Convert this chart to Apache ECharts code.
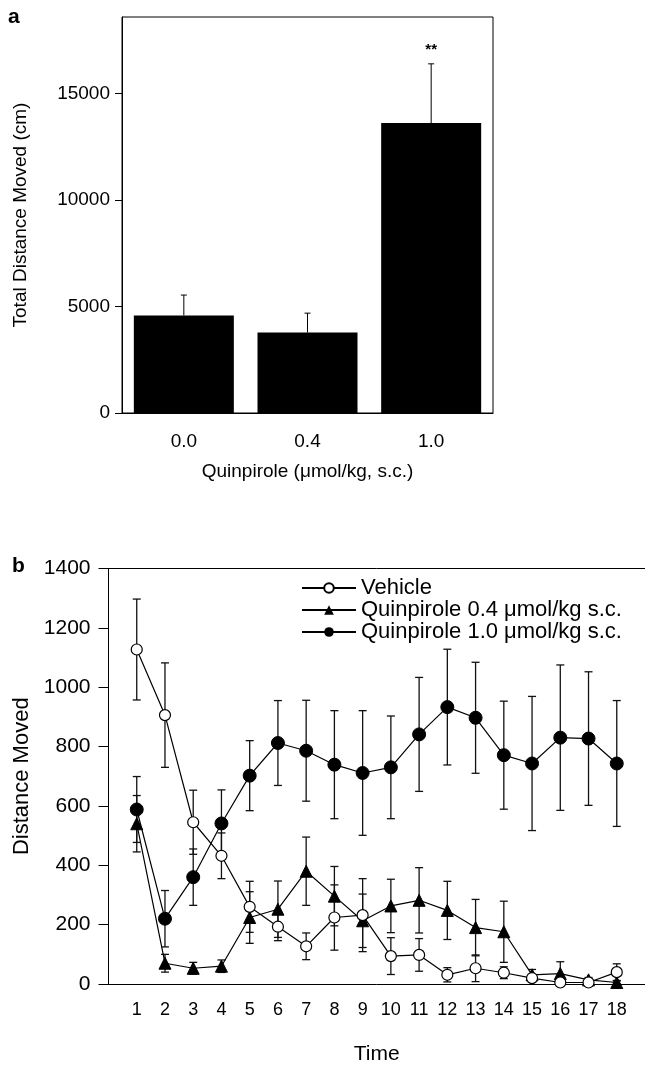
<!DOCTYPE html>
<html lang="en">
<head>
<meta charset="UTF-8">
<style>
  html, body { height: 100%; margin: 0; background: #fff; }
</style>
</head>
<body>
<div id="chart" style="width:645px;height:1066px;"></div>
<script src="https://cdn.jsdelivr.net/npm/echarts@6/dist/echarts.min.js"></script>
<script>
// panel a: total distance by dose
var doseLabels = ['0.0', '0.4', '1.0'];
var totalMeans = [4580, 3780, 13620];
var totalErr = [960, 910, 2780];
var sigMarks = ['', '', '**'];
var aTicks = [0, 5000, 10000, 15000];

// panel b: distance per time bin
var timeLabels = [1, 2, 3, 4, 5, 6, 7, 8, 9, 10, 11, 12, 13, 14, 15, 16, 17, 18];
var vehicle = [1127, 906, 545, 432, 260, 193, 127, 224, 232, 94, 98, 31, 53, 38, 20, 5, 5, 40];
var vehicleErr = [170, 176, 108, 77, 86, 47, 45, 110, 123, 62, 55, 24, 45, 20, 10, 5, 5, 28];
var q04 = [540, 70, 53, 60, 224, 252, 380, 296, 213, 263, 282, 248, 190, 176, 31, 35, 14, 5];
var q04Err = [95, 30, 20, 21, 87, 95, 115, 100, 90, 90, 110, 98, 95, 103, 18, 40, 8, 5];
var q10 = [588, 220, 360, 541, 702, 812, 786, 739, 711, 730, 841, 933, 897, 771, 743, 830, 827, 743];
var q10Err = [111, 95, 95, 113, 118, 143, 170, 182, 210, 173, 192, 195, 187, 182, 226, 245, 225, 212];

var FONT = '"Liberation Sans", Arial, sans-serif';

function pairs(xs, ys) {
    return xs.map(function (x, i) { return [x, ys[i]]; });
}
function errRows(xs, ys, es) {
    return xs.map(function (x, i) { return [x, ys[i], es[i]]; });
}
function plain(v) { return String(v); }

// two-sided error bars for panel b
function errBoth(params, api) {
    var x = api.value(0), m = api.value(1), e = api.value(2);
    var top = api.coord([x, m + e]);
    var bot = api.coord([x, Math.max(m - e, 0)]);
    var w = 4;
    var st = { stroke: '#111', lineWidth: 1.3 };
    return {
        type: 'group',
        children: [
            { type: 'line', shape: { x1: top[0], y1: top[1], x2: bot[0], y2: bot[1] }, style: st },
            { type: 'line', shape: { x1: top[0] - w, y1: top[1], x2: top[0] + w, y2: top[1] }, style: st },
            { type: 'line', shape: { x1: bot[0] - w, y1: bot[1], x2: bot[0] + w, y2: bot[1] }, style: st }
        ]
    };
}

var myChart = echarts.init(document.getElementById('chart'));
myChart.setOption({
    animation: false,
    textStyle: { fontFamily: FONT, color: '#000' },
    graphic: [
        { type: 'text', left: 8, top: 7, style: { text: 'a', font: 'bold 21px ' + FONT, fill: '#000' } },
        { type: 'text', left: 12, top: 556, style: { text: 'b', font: 'bold 21px ' + FONT, fill: '#000' } }
    ],
    legend: {
        orient: 'vertical',
        left: 301,
        top: 577,
        padding: 0,
        itemWidth: 54,
        itemHeight: 12,
        itemGap: 0,
        textStyle: { fontSize: 22, color: '#000', fontFamily: FONT },
        data: ['Vehicle', 'Quinpirole 0.4 μmol/kg s.c.', 'Quinpirole 1.0 μmol/kg s.c.']
    },
    grid: [
        { left: 122, top: 17, width: 371, height: 396, show: true, borderColor: '#000', borderWidth: 1 },
        { left: 108.5, top: 568.5, right: 0, height: 420.2 }
    ],
    xAxis: [
        {
            gridIndex: 0, type: 'category', data: doseLabels,
            axisLine: { lineStyle: { color: '#000', width: 1 } },
            axisTick: { show: false },
            axisLabel: { fontSize: 19, color: '#000', margin: 19 },
            name: 'Quinpirole (μmol/kg, s.c.)', nameLocation: 'middle', nameGap: 49,
            nameTextStyle: { fontSize: 19, color: '#000' }
        },
        {
            gridIndex: 1, type: 'value', min: 0, max: 19, interval: 1,
            axisLine: { lineStyle: { color: '#000', width: 1 } },
            axisTick: { show: false },
            splitLine: { show: false },
            axisLabel: { fontSize: 18, color: '#000', margin: 17, customValues: timeLabels },
            name: 'Time', nameLocation: 'middle', nameGap: 60,
            nameTextStyle: { fontSize: 21, color: '#000' }
        },
        {
            gridIndex: 1, type: 'value', min: 0, max: 19, position: 'top',
            axisLine: { lineStyle: { color: '#000', width: 1 } },
            axisTick: { show: false }, axisLabel: { show: false }, splitLine: { show: false }
        }
    ],
    yAxis: [
        {
            gridIndex: 0, type: 'value', min: 0, max: 18600,
            axisLine: { show: true, lineStyle: { color: '#000', width: 1 } },
            axisTick: { show: true, length: 7, customValues: aTicks, lineStyle: { color: '#000' } },
            axisLabel: { fontSize: 19, color: '#000', margin: 12, customValues: aTicks, formatter: plain },
            splitLine: { show: false },
            name: 'Total Distance Moved (cm)', nameLocation: 'middle', nameGap: 92,
            nameTextStyle: { fontSize: 19, color: '#000' }
        },
        {
            gridIndex: 1, type: 'value', min: 0, max: 1400, interval: 200,
            axisLine: { show: true, lineStyle: { color: '#000', width: 1 } },
            axisTick: { show: true, length: 10, lineStyle: { color: '#000' } },
            axisLabel: { fontSize: 21, color: '#000', margin: 18, formatter: plain },
            splitLine: { show: false },
            name: 'Distance Moved', nameLocation: 'middle', nameGap: 71,
            nameTextStyle: { fontSize: 22, color: '#000' }
        }
    ],
    series: [
        {
            type: 'bar', xAxisIndex: 0, yAxisIndex: 0,
            data: totalMeans, barWidth: 100,
            itemStyle: { color: '#000' }
        },
        {
            type: 'custom', xAxisIndex: 0, yAxisIndex: 0, z: 3,
            data: totalMeans.map(function (m, i) { return [i, m, totalErr[i]]; }),
            renderItem: function (params, api) {
                var x = api.value(0), m = api.value(1), e = api.value(2);
                var p0 = api.coord([x, m]);
                var p1 = api.coord([x, m + e]);
                var st = { stroke: '#000', lineWidth: 1 };
                var kids = [
                    { type: 'line', shape: { x1: p0[0], y1: p0[1], x2: p1[0], y2: p1[1] }, style: st },
                    { type: 'line', shape: { x1: p1[0] - 3, y1: p1[1], x2: p1[0] + 3, y2: p1[1] }, style: st }
                ];
                var mark = sigMarks[params.dataIndex];
                if (mark) {
                    kids.push({ type: 'text', x: p1[0], y: p1[1] - 14,
                        style: { text: mark, font: 'bold 15px ' + FONT, fill: '#000', align: 'center', verticalAlign: 'middle' } });
                }
                return { type: 'group', children: kids };
            }
        },
        {
            type: 'custom', xAxisIndex: 1, yAxisIndex: 1, z: 1,
            data: errRows(timeLabels, vehicle, vehicleErr), renderItem: errBoth
        },
        {
            type: 'custom', xAxisIndex: 1, yAxisIndex: 1, z: 1,
            data: errRows(timeLabels, q04, q04Err), renderItem: errBoth
        },
        {
            type: 'custom', xAxisIndex: 1, yAxisIndex: 1, z: 1,
            data: errRows(timeLabels, q10, q10Err), renderItem: errBoth
        },
        {
            name: 'Vehicle', type: 'line', xAxisIndex: 1, yAxisIndex: 1, z: 4,
            data: pairs(timeLabels, vehicle),
            symbol: 'circle', symbolSize: 11,
            lineStyle: { color: '#000', width: 1.2 },
            itemStyle: { color: '#fff', borderColor: '#000', borderWidth: 1.2 }
        },
        {
            name: 'Quinpirole 0.4 μmol/kg s.c.', type: 'line', xAxisIndex: 1, yAxisIndex: 1, z: 3,
            data: pairs(timeLabels, q04),
            symbol: 'triangle', symbolSize: 12,
            lineStyle: { color: '#000', width: 1.2 },
            itemStyle: { color: '#000', borderColor: '#000' }
        },
        {
            name: 'Quinpirole 1.0 μmol/kg s.c.', type: 'line', xAxisIndex: 1, yAxisIndex: 1, z: 3,
            data: pairs(timeLabels, q10),
            symbol: 'circle', symbolSize: 13,
            lineStyle: { color: '#000', width: 1.2 },
            itemStyle: { color: '#000', borderColor: '#000' }
        }
    ]
});
</script>
</body>
</html>
